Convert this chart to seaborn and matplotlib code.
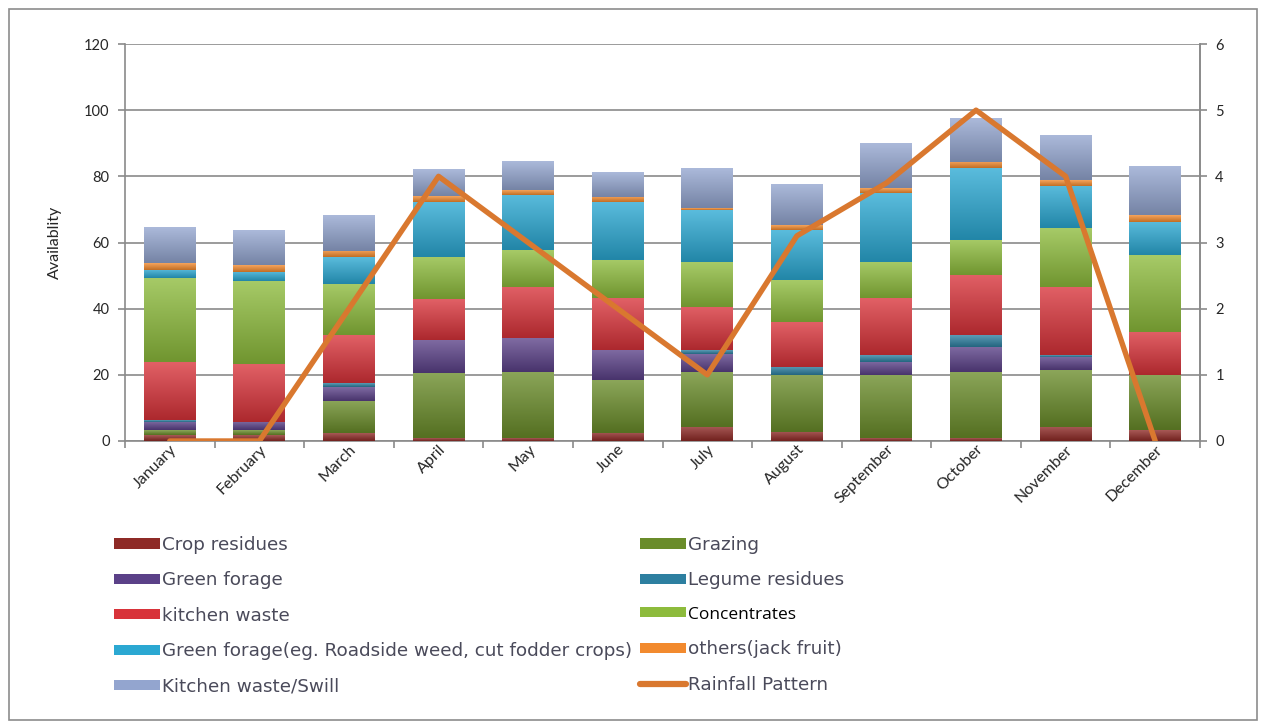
import numpy as np
import matplotlib
matplotlib.use("Agg")
import matplotlib.pyplot as plt
import matplotlib.colors as mcolors
from matplotlib.patches import Patch, Rectangle
from matplotlib.lines import Line2D
import seaborn as sns

months = ["January", "February", "March", "April", "May", "June", "July",
          "August", "September", "October", "November", "December"]

crop_residues = [1.8, 1.8, 2.3, 0.8, 0.8, 2.5, 4.3, 2.8, 0.8, 0.8, 4.3, 3.3]
grazing = [1.5, 1.5, 9.9, 19.7, 20.1, 15.9, 16.6, 17.2, 19.2, 20.1, 17.2, 16.7]
green_forage = [2.5, 2.5, 4.2, 10.0, 10.1, 9.1, 5.4, 0.0, 4.0, 7.6, 4.0, 0.0]
legume_residues = [0.5, 0.0, 1.2, 0.0, 0.0, 0.0, 1.2, 2.5, 2.0, 3.5, 0.5, 0.0]
kitchen_waste = [17.5, 17.5, 14.4, 12.3, 15.6, 15.6, 13.1, 13.6, 17.1, 18.2, 20.6, 13.0]
concentrates = [25.4, 25.1, 15.5, 12.9, 11.1, 11.6, 13.6, 12.6, 11.1, 10.6, 17.7, 23.2]
green_forage_eg = [2.5, 2.8, 8.0, 16.6, 16.7, 17.6, 15.6, 15.1, 20.7, 21.6, 12.8, 10.1]
others_jack_fruit = [2.0, 2.0, 2.0, 1.7, 1.5, 1.6, 0.5, 1.5, 1.5, 2.0, 1.8, 2.0]
kitchen_waste_swill = [10.6, 10.4, 10.8, 7.9, 8.5, 7.5, 11.8, 12.1, 13.6, 13.0, 13.3, 14.6]

rainfall = [0, 0, 2.0, 4.0, 3.0, 2.0, 1.0, 3.1, 3.9, 5.0, 4.0, 0]

series_labels = ["Crop residues", "Grazing", "Green forage", "Legume residues",
                 "kitchen waste", "Concentrates",
                 "Green forage(eg. Roadside weed, cut fodder crops)",
                 "others(jack fruit)", "Kitchen waste/Swill"]
series_values = [crop_residues, grazing, green_forage, legume_residues,
                 kitchen_waste, concentrates, green_forage_eg,
                 others_jack_fruit, kitchen_waste_swill]
series_colors = ["#8E2A26", "#6A8C2A", "#5B4188", "#2D7FA0", "#D8333A",
                 "#8DBB3C", "#2BA8D2", "#F28A2E", "#93A5CF"]
rain_color = "#D9782F"

sns.set_theme(style="white")
plt.rcParams["font.family"] = ["Lato", "DejaVu Sans"]

fig = plt.figure(figsize=(12.66, 7.26), dpi=100)
ax = fig.add_axes([125 / 1266, 1 - 441 / 726, (1200 - 125) / 1266, (441 - 44) / 726])

# stacked bars: each series sits on the running total of the ones below it
bottom = np.zeros(len(months))
for vals, col in zip(series_values, series_colors):
    sns.barplot(x=months, y=vals, bottom=bottom, color=col, width=0.58,
                saturation=1, linewidth=0, ax=ax, zorder=3, order=months)
    bottom = bottom + np.asarray(vals)

# soft vertical shading inside every bar segment
for p in list(ax.patches):
    h = p.get_height()
    if h <= 0:
        continue
    x0, y0, w = p.get_x(), p.get_y(), p.get_width()
    rgb = np.array(mcolors.to_rgb(p.get_facecolor()))
    top = rgb + (1 - rgb) * 0.22
    bot = rgb * 0.80
    grad = np.linspace(bot, top, 32)[:, None, :]
    ax.imshow(grad, extent=[x0, x0 + w, y0, y0 + h], aspect="auto",
              origin="lower", interpolation="bilinear", zorder=3.1)

ax.set_xlim(-0.5, len(months) - 0.5)
ax.set_ylim(0, 120)
ax.set_yticks(np.arange(0, 121, 20))
ax.yaxis.grid(True, color="#8a8a8a", linewidth=1.2, zorder=0)
ax.xaxis.grid(False)
ax.set_axisbelow(True)
for side in ["left", "bottom", "right"]:
    ax.spines[side].set_visible(True)
    ax.spines[side].set_color("#8a8a8a")
    ax.spines[side].set_linewidth(1.2)
ax.spines["top"].set_visible(False)

ax.set_xticks(range(len(months)))
ax.set_xticklabels(months, rotation=45, ha="right", va="top",
                   rotation_mode="anchor", fontsize=11.5, color="#262626")
ax.set_xticks(np.arange(-0.5, len(months), 1), minor=True)
ax.tick_params(axis="x", which="major", length=0, pad=1)
ax.tick_params(axis="x", which="minor", length=5, color="#8a8a8a", width=1.2,
               direction="out", bottom=True)
ax.tick_params(axis="y", length=5, color="#8a8a8a", width=1.2, direction="out",
               left=True, labelsize=10.5, labelcolor="#262626", pad=6)
ax.set_xlabel("")
ax.set_ylabel("Availablity", fontsize=11.5, color="#262626", labelpad=16)

# rainfall on the secondary axis
ax2 = ax.twinx()
sns.lineplot(x=np.arange(len(months)), y=rainfall, color=rain_color,
             linewidth=3.9, ax=ax2, legend=False, sort=False,
             solid_joinstyle="round", solid_capstyle="round", zorder=5)
ax2.set_ylim(0, 6)
ax2.set_xlim(-0.5, len(months) - 0.5)
ax2.set_yticks(range(0, 7))
ax2.tick_params(axis="y", length=5, color="#8a8a8a", width=1.2, direction="out",
                right=True, labelsize=10.5, labelcolor="#262626", pad=6)
ax2.set_ylabel("")
for side in ["left", "bottom", "top"]:
    ax2.spines[side].set_visible(False)
ax2.spines["right"].set_color("#8a8a8a")
ax2.spines["right"].set_linewidth(1.2)
ax2.grid(False)

# legend in two columns
handles = [Patch(facecolor=c, edgecolor="none") for c in series_colors]
handles.append(Line2D([0], [0], color=rain_color, linewidth=4.5,
                      solid_capstyle="round"))
labels = series_labels + ["Rainfall Pattern"]
left_idx = [0, 2, 4, 6, 8]
right_idx = [1, 3, 5, 7, 9]
common = dict(loc="upper left", frameon=False, borderpad=0,
              borderaxespad=0, handlelength=2.5, handleheight=0.47,
              handletextpad=0.12, labelspacing=0.95,
              prop={"family": ["DejaVu Sans"], "size": 13.2})
leg1 = fig.legend([handles[i] for i in left_idx], [labels[i] for i in left_idx],
                  bbox_to_anchor=(114 / 1266, 1 - 536 / 726), **common)
leg2 = fig.legend([handles[i] for i in right_idx], [labels[i] for i in right_idx],
                  bbox_to_anchor=(640 / 1266, 1 - 536 / 726), **common)
for leg in (leg1, leg2):
    for t in leg.get_texts():
        t.set_color("#4a4a5a")
        if t.get_text() == "Concentrates":
            t.set_color("black")
            t.set_fontfamily(["Open Sans", "DejaVu Sans"])
            t.set_fontsize(12.5)

# chart area border
fig.patches.append(Rectangle((9 / 1266, 6 / 726), 1 - 18 / 1266, 1 - 15 / 726,
                             transform=fig.transFigure, fill=False,
                             edgecolor="#8c8c8c", linewidth=1.2))

fig.savefig("out.png", dpi=100, facecolor="white")
